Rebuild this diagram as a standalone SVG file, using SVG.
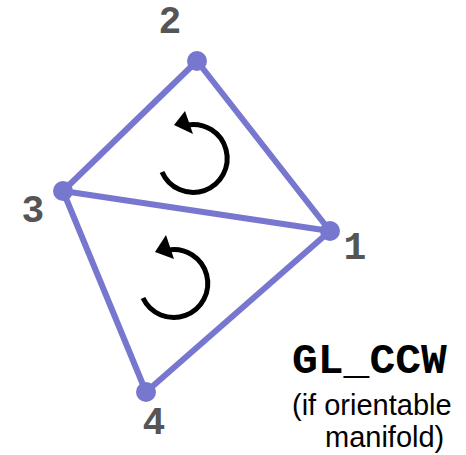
<svg xmlns="http://www.w3.org/2000/svg" width="466" height="455" viewBox="0 0 466 455">
<style>
.edge{stroke:#7777cf;stroke-width:6;fill:none;stroke-linecap:round}
.dot{fill:#7777cf}
.lbl{font-family:"Liberation Mono",monospace;font-weight:bold;font-size:38px;fill:#555555;text-anchor:middle}
.rot{stroke:#000;stroke-width:5;fill:none}
.cap{font-family:"Liberation Sans",Arial,sans-serif;font-size:29px;fill:#000}
</style>
<g id="edges">
<line class="edge" x1="197" y1="61" x2="63" y2="191"/>
<line class="edge" x1="197" y1="61" x2="330" y2="231"/>
<line class="edge" x1="63" y1="191" x2="330" y2="231"/>
<line class="edge" x1="63" y1="191" x2="146" y2="392"/>
<line class="edge" x1="146" y1="392" x2="330" y2="231"/>
</g>
<g id="v1"><circle class="dot" cx="330" cy="231" r="10"/><text class="lbl" x="355" y="259">1</text></g>
<g id="v2"><circle class="dot" cx="197" cy="61" r="10"/><text class="lbl" x="170" y="33">2</text></g>
<g id="v3"><circle class="dot" cx="63" cy="191" r="10"/><text class="lbl" x="33" y="222">3</text></g>
<g id="v4"><circle class="dot" cx="146" cy="392" r="10"/><text class="lbl" x="154" y="434">4</text></g>
<g id="rot-upper">
<path class="rot" d="M162 172 A34 34 0 1 0 187 125"/>
<polygon points="174,125 185,111 193,134" fill="#000"/>
</g>
<g id="rot-lower">
<path class="rot" d="M143 298 A34 34 0 1 0 168 250"/>
<polygon points="155,252 166,235 174,259" fill="#000"/>
</g>
<g id="caption">
<text x="292" y="373" style="font-family:'Liberation Mono',monospace;font-weight:bold;font-size:43px;fill:#000">GL_CCW</text>
<text class="cap" x="292" y="415">(if orientable</text>
<text class="cap" x="325" y="447">manifold)</text>
</g>
</svg>
